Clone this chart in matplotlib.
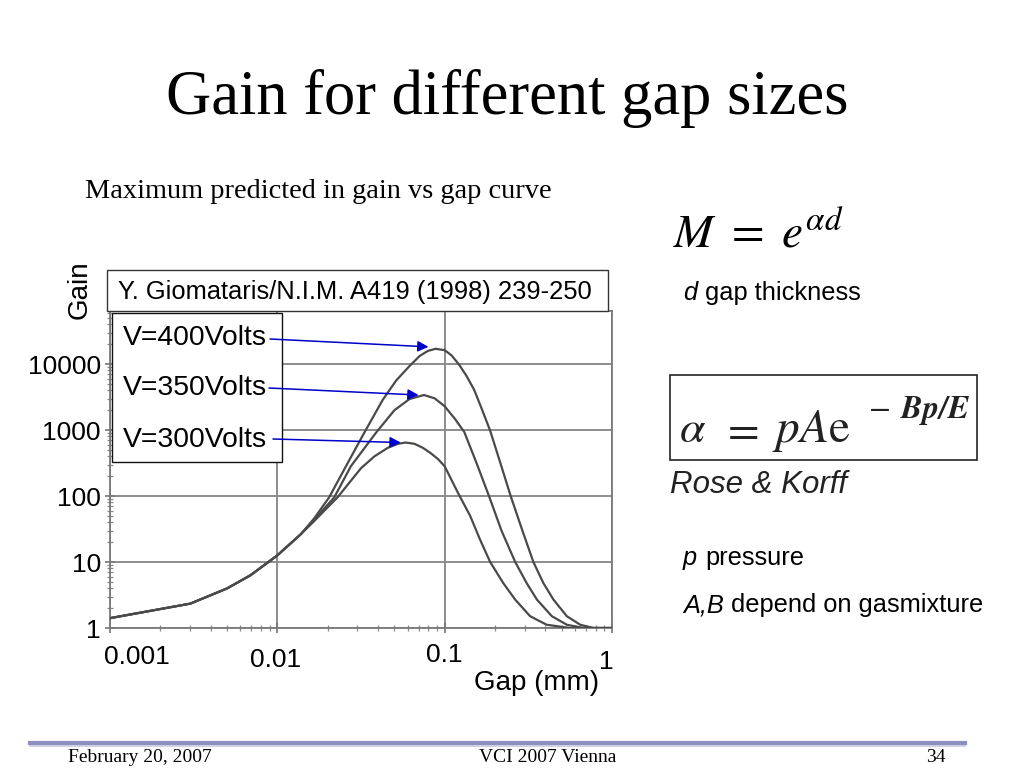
import matplotlib
matplotlib.use('Agg')
import matplotlib.pyplot as plt
import matplotlib.patches as patches
from matplotlib.lines import Line2D
from matplotlib.ticker import LogLocator, FixedLocator, NullFormatter
import numpy as np

W, H = 1024, 768
SANS = 'Liberation Sans'
SERIF = 'Liberation Serif'

def fx(px):
    return px / W

def fy(py):
    return 1 - py / H

# === DATA ===
gap_400 = [0.001, 0.00302, 0.00501, 0.00692, 0.0100, 0.0138, 0.0166, 0.0204, 0.0257, 0.0331,
           0.0427, 0.0513, 0.0617, 0.0708, 0.0794, 0.0883, 0.100, 0.110, 0.122, 0.135,
           0.150, 0.166, 0.187, 0.214, 0.248, 0.292, 0.339, 0.389, 0.447, 0.537,
           0.646, 0.776, 1.0]
gain_400 = [1.41, 2.34, 3.98, 6.31, 12.6, 26.3, 45.7, 95.5, 282, 912,
            2880, 5620, 9330, 13200, 15800, 17000, 16200, 13500, 9770, 6610,
            4070, 2140, 977, 331, 100, 29.5, 10, 4.79, 2.69, 1.51,
            1.12, 1.0, 1.0]

gap_350 = [0.001, 0.00302, 0.00501, 0.00692, 0.0100, 0.0138, 0.0166, 0.0219, 0.0275, 0.0389,
           0.0501, 0.0617, 0.0752, 0.0871, 0.100, 0.115, 0.131, 0.155, 0.184, 0.219,
           0.264, 0.309, 0.356, 0.437, 0.537, 0.676, 1.0]
gain_350 = [1.41, 2.34, 3.98, 6.31, 12.6, 26.3, 43.7, 95.5, 282, 912,
            1995, 2950, 3390, 3020, 2290, 1480, 933, 316, 100, 29.5,
            10, 4.79, 2.69, 1.51, 1.12, 1.0, 1.0]

gap_300 = [0.001, 0.00302, 0.00501, 0.00692, 0.0100, 0.0138, 0.0166, 0.0229, 0.0316, 0.0380,
           0.0457, 0.0525, 0.0583, 0.0661, 0.0741, 0.0824, 0.0912, 0.100, 0.120, 0.142,
           0.162, 0.187, 0.224, 0.264, 0.324, 0.407, 0.562, 1.0]
gain_300 = [1.41, 2.34, 3.98, 6.31, 12.6, 26.3, 41.7, 95.5, 263, 398,
            537, 617, 646, 617, 537, 447, 363, 282, 112, 50.1,
            22.4, 10, 4.79, 2.69, 1.51, 1.12, 1.0, 1.0]

series_labels = ['V=400Volts', 'V=350Volts', 'V=300Volts']
x_ticks = [0.001, 0.01, 0.1, 1]
x_tick_labels = ['0.001', '0.01', '0.1', '1']
y_ticks = [1, 10, 100, 1000, 10000]
y_tick_labels = ['1', '10', '100', '1000', '10000']

# === FIGURE ===
fig = plt.figure(figsize=(10.24, 7.68), dpi=100, facecolor='white')
ax = fig.add_axes([fx(110), fy(628), fx(612) - fx(110), (628 - 311) / H])

curve_col = '#4a4a4a'
for g, v in [(gap_400, gain_400), (gap_350, gain_350), (gap_300, gain_300)]:
    ax.plot(g, v, color=curve_col, lw=1.6, solid_joinstyle='round', zorder=3)

ax.set_xscale('log')
ax.set_yscale('log')
ax.set_xlim(0.001, 1)
ax.set_ylim(1, 10 ** ((628 - 311) / 66))

ax.xaxis.set_major_locator(FixedLocator(x_ticks))
ax.xaxis.set_major_formatter(NullFormatter())
ax.xaxis.set_minor_locator(LogLocator(base=10, subs=np.arange(2, 10)))
ax.xaxis.set_minor_formatter(NullFormatter())
ax.yaxis.set_major_locator(FixedLocator(y_ticks))
ax.set_yticklabels(y_tick_labels, fontsize=19, family=SANS)
ax.yaxis.set_minor_locator(LogLocator(base=10, subs=np.arange(2, 10)))
ax.yaxis.set_minor_formatter(NullFormatter())

ax.tick_params(axis='both', which='major', direction='inout', length=7, width=1.2, color='#777777', pad=3)
ax.tick_params(axis='both', which='minor', direction='inout', length=4, width=0.9, color='#888888')
ax.grid(True, which='major', color='#8c8c8c', lw=1.4)
for sp in ax.spines.values():
    sp.set_color('#7a7a7a')
    sp.set_linewidth(1.3)

# x tick labels sit a bit irregular on the slide
x_offsets = [(27, -29), (-2, -32), (0, -27), (-6, -34)]
for val, lab, (dx, dy) in zip(x_ticks, x_tick_labels, x_offsets):
    ax.annotate(lab, xy=(val, 0), xycoords=('data', 'axes fraction'), xytext=(dx, dy),
                textcoords='offset pixels', ha='center', va='center', fontsize=19,
                family=SANS, annotation_clip=False)

fig.text(fx(80), fy(290), 'Gain', rotation=90, ha='center', va='center', fontsize=20, family=SANS)
fig.text(fx(537), fy(683), 'Gap (mm)', ha='center', va='center', fontsize=20, family=SANS)

# citation box + voltage box
ax.add_patch(patches.Rectangle((fx(107), fy(311)), fx(608) - fx(107), (311 - 270) / H,
                               transform=fig.transFigure, fc='white', ec='#333333', lw=1.0,
                               clip_on=False, zorder=5))
ax.text(fx(118), fy(292), 'Y. Giomataris/N.I.M. A419 (1998) 239-250', transform=fig.transFigure,
        ha='left', va='center', fontsize=18.4, family=SANS, zorder=6)
ax.add_patch(patches.Rectangle((fx(112), fy(462)), fx(282) - fx(112), (462 - 313) / H,
                               transform=fig.transFigure, fc='white', ec='#111111', lw=1.0,
                               clip_on=False, zorder=5))

label_y = [338, 388, 440]
arrow_start = [(270, 339), (269, 388), (273, 439)]
arrow_tip = [(0.080, 18200), (0.0698, 3390), (0.0546, 646)]
for lab, ly, (sx, sy), tip in zip(series_labels, label_y, arrow_start, arrow_tip):
    ax.text(fx(123), fy(ly), lab, transform=fig.transFigure, ha='left', va='center',
            fontsize=20.4, family=SANS, zorder=6)
    ax.annotate('', xy=tip, xycoords='data', xytext=(fx(sx), fy(sy)), textcoords='figure fraction',
                arrowprops=dict(arrowstyle='-|>', color='#0000c8', lw=1.1, mutation_scale=16,
                                shrinkA=0, shrinkB=0), annotation_clip=False, zorder=7)

# === SLIDE TEXT ===
fig.text(fx(507), fy(98), 'Gain for different gap sizes', ha='center', va='center',
         fontsize=45, family=SERIF)
fig.text(fx(85), fy(191), 'Maximum predicted in gain vs gap curve', ha='left', va='center',
         fontsize=20.4, family=SERIF)
fig.text(fx(673), fy(248), r'$M\ =\ e^{\alpha d}$', ha='left', va='baseline',
         fontsize=34, math_fontfamily='stix')

fig.text(fx(683), fy(293), 'd', ha='left', va='center', fontsize=18.3, family=SANS, style='italic')
fig.text(fx(705), fy(293), 'gap thickness', ha='left', va='center', fontsize=18.3, family=SANS)

# Rose & Korff formula (a pasted image on the slide, stretched a bit)
fig.add_artist(patches.Rectangle((fx(670), fy(460)), fx(977) - fx(670), (460 - 375) / H,
                                 transform=fig.transFigure, fc='white', ec='#222222', lw=1.2))
form_col = '#222222'
fig.text(fx(679), fy(442), r'$\alpha$', ha='left', va='baseline', fontsize=33,
         math_fontfamily='stix', color=form_col)
fig.text(fx(721), fy(442), r'$=$', ha='left', va='baseline', fontsize=33,
         math_fontfamily='stix', color=form_col)
fig.text(fx(772), fy(442), r'$pA\mathrm{e}$', ha='left', va='baseline', fontsize=34,
         math_fontfamily='stix', color=form_col)
fig.text(fx(868), fy(416), r'$-$', ha='left', va='baseline', fontsize=23,
         math_fontfamily='stix', color=form_col)
fig.text(fx(900), fy(418), r'$\mathbfit{Bp/E}$', ha='left', va='baseline', fontsize=23,
         math_fontfamily='stix', color=form_col)
fig.text(fx(670), fy(485), 'Rose & Korff', ha='left', va='center', fontsize=22.5, family=SANS,
         style='italic', color=form_col)

fig.text(fx(683), fy(558), 'p', ha='left', va='center', fontsize=18.3, family=SANS, style='italic')
fig.text(fx(705), fy(558), 'pressure', ha='left', va='center', fontsize=18.3, family=SANS)
fig.text(fx(683), fy(605), 'A,B', ha='left', va='center', fontsize=18.3, family=SANS, style='italic')
fig.text(fx(731), fy(605), 'depend on gasmixture', ha='left', va='center', fontsize=18.3, family=SANS)

# footer
fig.add_artist(Line2D([fx(30), fx(965)], [fy(743), fy(743)], color='#8f8fbf', lw=3.0))
fig.add_artist(Line2D([fx(30), fx(965)], [fy(745.5), fy(745.5)], color='#c8c8e0', lw=1.2))
fig.text(fx(68), fy(762), 'February 20, 2007', ha='left', va='baseline', fontsize=14, family=SERIF)
fig.text(fx(548), fy(762), 'VCI 2007 Vienna', ha='center', va='baseline', fontsize=14, family=SERIF)
fig.text(fx(946), fy(762), '34', ha='right', va='baseline', fontsize=14, family=SERIF)

fig.savefig('out.png', dpi=100, facecolor='white')
